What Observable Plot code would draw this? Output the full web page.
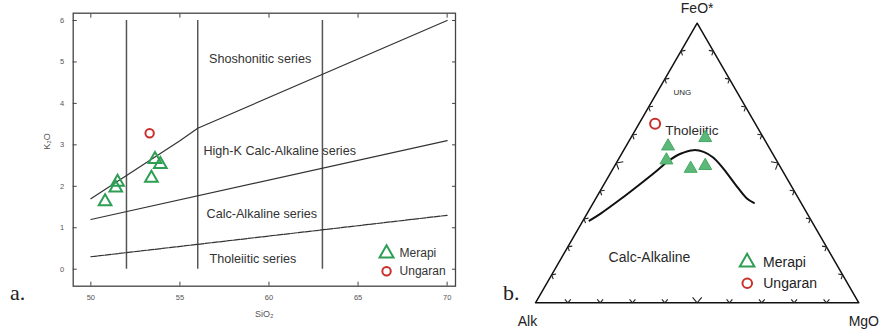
<!DOCTYPE html>
<html><head><meta charset="utf-8">
<script src="https://cdn.jsdelivr.net/npm/d3@7"></script>
<script src="https://cdn.jsdelivr.net/npm/@observablehq/plot@0.6"></script>
<style>
body{margin:0;background:#fff;}
#wrap{position:relative;width:880px;height:330px;overflow:hidden;background:#fff;font-family:"Liberation Sans",Arial,Helvetica,sans-serif;}
#a{position:absolute;left:0;top:0;}
#b{position:absolute;left:480px;top:0;}
.tag{position:absolute;font-family:"Liberation Serif","Times New Roman",serif;font-size:22px;line-height:22px;color:#222;}
</style></head><body>
<div id="wrap"><div id="a"></div><div id="b"></div>
<div class="tag" style="left:10px;top:282px">a.</div>
<div class="tag" style="left:503px;top:282px">b.</div></div>
<script>
// ---------- Panel a: K2O vs SiO2 ----------
const siTicks = [50, 55, 60, 65, 70];
const kTicks = [0, 1, 2, 3, 4, 5, 6];
const merapiSiO2 = [50.8, 51.4, 51.5, 53.6, 53.9, 53.4];
const merapiK2O = [1.63, 1.96, 2.1, 2.65, 2.53, 2.2];
const ungaranSiO2 = [53.3];
const ungaranK2O = [3.28];
const shoshoniticSiO2 = [50, 55, 56, 70];
const shoshoniticK2O = [1.7, 3.1, 3.4, 6.0];
const highKSiO2 = [50, 70];
const highKK2O = [1.2, 3.1];
const tholeiiticSiO2 = [50, 70];
const tholeiiticK2O = [0.3, 1.3];
const dividerSiO2 = [52, 56, 63];
const seriesNames = ["Shoshonitic series", "High-K Calc-Alkaline series", "Calc-Alkaline series", "Tholeiitic series"];
const seriesLabelSiO2 = [59.5, 60.6, 59.6, 59.1];
const seriesLabelK2O = [5.07, 2.85, 1.34, 0.25];
const legendNames = ["Merapi", "Ungaran"];
const legendSiO2A = [66.6, 66.6];
const legendK2OA = [0.38, -0.05];

// ---------- Panel b: AFM ternary (A, F, M in %) ----------
const merapiA = [31, 34, 18, 28, 23];
const merapiF = [56, 51, 59, 48, 49];
const merapiM = [13, 15, 23, 24, 28];
const ungaranA = [31];
const ungaranF = [64];
const ungaranM = [5];
const curveA = [68.6, 63.9, 55.1, 46.2, 39.4, 33.9, 28.5, 23.8, 21.0, 19.0, 17.9, 17.0, 16.0, 14.6];
const curveF = [29.4, 31.9, 37.1, 42.6, 46.9, 50.5, 53.3, 54.6, 54.0, 51.9, 48.0, 42.3, 37.4, 35.7];
const curveM = [2.0, 4.2, 7.8, 11.2, 13.7, 15.6, 18.2, 21.6, 25.0, 29.1, 34.1, 40.7, 46.6, 49.7];
const outlineA = [100, 0, 0, 100];
const outlineF = [0, 100, 0, 0];
const outlineM = [0, 0, 100, 0];
const tickSteps = [10, 20, 30, 40, 50, 60, 70, 80, 90];
const vertexNames = ["Alk", "FeO*", "MgO"];
const fieldNames = ["Tholeiitic", "Calc-Alkaline", "UNG"];
const fieldA = [29.1, 56.6, 17];
const fieldF = [61.5, 16.3, 75.2];
const fieldM = [9.4, 27.1, 7.8];
const legendA_b = [27.3, 31];
const legendF_b = [14.5, 7];
const legendM_b = [58.2, 62];

const font = '"Liberation Sans", Arial, Helvetica, sans-serif';
const green = "#2e9e55";
const red = "#c9302c";

const idx = (arr) => d3.range(arr.length);

const plotA = Plot.plot({
  width: 470, height: 330,
  marginLeft: 72.7, marginRight: 15, marginTop: 12.7, marginBottom: 44.3,
  style: {fontFamily: font, background: "#fff", overflow: "visible"},
  x: {domain: [49.01, 70.47]},
  y: {domain: [-0.41, 6.176]},
  marks: [
    Plot.frame({stroke: "#444", strokeWidth: 1.3}),
    Plot.axisX(siTicks, {anchor: "bottom", tickSize: -4, fill: "none", stroke: "#444", label: null}),
    Plot.axisX(siTicks, {anchor: "top", tickSize: -4, fill: "none", stroke: "#444", label: null}),
    Plot.axisY(kTicks, {anchor: "left", tickSize: -4, fill: "none", stroke: "#444", label: null}),
    Plot.axisY(kTicks, {anchor: "right", tickSize: -4, fill: "none", stroke: "#444", label: null}),
    Plot.axisX(siTicks, {anchor: "bottom", tickSize: 0, tickPadding: 8, stroke: "none", fill: "#555", fontSize: 7.5, label: null}),
    Plot.axisY(kTicks, {anchor: "left", tickSize: 0, tickPadding: 9, stroke: "none", fill: "#555", fontSize: 7.5, label: null}),
    Plot.text(["SiO₂"], {frameAnchor: "bottom", dy: 31, fontSize: 9, fill: "#555"}),
    Plot.text(["K₂O"], {frameAnchor: "left", dx: -26, rotate: -90, fontSize: 9, fill: "#555"}),
    Plot.ruleX(dividerSiO2, {y1: 0, y2: 6, stroke: "#555", strokeWidth: 1.5}),
    Plot.line(idx(shoshoniticSiO2), {x: i => shoshoniticSiO2[i], y: i => shoshoniticK2O[i], stroke: "#333", strokeWidth: 1.2}),
    Plot.line(idx(highKSiO2), {x: i => highKSiO2[i], y: i => highKK2O[i], stroke: "#333", strokeWidth: 1.2}),
    Plot.line(idx(tholeiiticSiO2), {x: i => tholeiiticSiO2[i], y: i => tholeiiticK2O[i], stroke: "#333", strokeWidth: 1.2, strokeDasharray: "6,1.2"}),
    Plot.text(idx(seriesNames), {x: i => seriesLabelSiO2[i], y: i => seriesLabelK2O[i], text: i => seriesNames[i], fontSize: 12.6, fill: "#333"}),
    Plot.dot(idx(merapiSiO2), {x: i => merapiSiO2[i], y: i => merapiK2O[i], symbol: "triangle", r: 4.7, stroke: green, strokeWidth: 2, fill: "none"}),
    Plot.dot(idx(ungaranSiO2), {x: i => ungaranSiO2[i], y: i => ungaranK2O[i], symbol: "circle", r: 4.2, stroke: red, strokeWidth: 2, fill: "none"}),
    Plot.dot([0], {x: () => legendSiO2A[0], y: () => legendK2OA[0], symbol: "triangle", r: 5.2, stroke: green, strokeWidth: 2, fill: "none"}),
    Plot.dot([1], {x: () => legendSiO2A[1], y: () => legendK2OA[1], symbol: "circle", r: 4.2, stroke: red, strokeWidth: 2, fill: "none"}),
    Plot.text(idx(legendNames), {x: i => legendSiO2A[i], y: i => legendK2OA[i], text: i => legendNames[i], dx: 13, textAnchor: "start", fontSize: 12, fill: "#333"})
  ]
});
document.getElementById("a").append(plotA);

// ---------- ternary helpers ----------
const S = Math.sqrt(3) / 2;
const tx = (a, f, m) => { const t = a + f + m; return m / t + f / t / 2; };
const ty = (a, f, m) => { const t = a + f + m; return f / t * S; };

const edges = [
  {p: k => [100 - k, 0, k], n: [0, 1]},
  {p: k => [100 - k, k, 0], n: [S, -0.5]},
  {p: k => [0, k, 100 - k], n: [-S, -0.5]}
];
const arms = [];
for (const e of edges) {
  for (const k of tickSteps) {
    const [a, f, m] = e.p(k);
    const x0 = tx(a, f, m), y0 = ty(a, f, m);
    const len = k === 50 ? 0.022 : 0.014;
    for (const s of [-1, 1]) {
      const th = s * 40 * Math.PI / 180;
      const dx = e.n[0] * Math.cos(th) - e.n[1] * Math.sin(th);
      const dy = e.n[0] * Math.sin(th) + e.n[1] * Math.cos(th);
      arms.push({x1: x0, y1: y0, x2: x0 + len * dx, y2: y0 + len * dy});
    }
  }
}

const fieldText = (i, anchor, size) => Plot.text([i], {
  x: () => tx(fieldA[i], fieldF[i], fieldM[i]),
  y: () => ty(fieldA[i], fieldF[i], fieldM[i]),
  text: () => fieldNames[i], textAnchor: anchor, fontSize: size, fill: "#2a2a2a"
});

const plotB = Plot.plot({
  width: 400, height: 330,
  marginLeft: 55, marginRight: 21.7, marginTop: 22.7, marginBottom: 27.7,
  style: {fontFamily: font, background: "#fff", overflow: "visible"},
  x: {domain: [0, 1], axis: null},
  y: {domain: [0, S], axis: null},
  marks: [
    Plot.line(idx(outlineA), {x: i => tx(outlineA[i], outlineF[i], outlineM[i]), y: i => ty(outlineA[i], outlineF[i], outlineM[i]), stroke: "#111", strokeWidth: 1.5}),
    Plot.link(arms, {x1: "x1", y1: "y1", x2: "x2", y2: "y2", stroke: "#222", strokeWidth: 1.1}),
    Plot.line(idx(curveA), {x: i => tx(curveA[i], curveF[i], curveM[i]), y: i => ty(curveA[i], curveF[i], curveM[i]), curve: "catmull-rom", stroke: "#111", strokeWidth: 2}),
    fieldText(0, "start", 13.5),
    fieldText(1, "middle", 14),
    fieldText(2, "middle", 8),
    Plot.text([0], {x: () => 0, y: () => 0, text: () => vertexNames[0], dx: -8, dy: 19, fontSize: 14, fill: "#222"}),
    Plot.text([1], {x: () => 0.5, y: () => S, text: () => vertexNames[1], dy: -14.5, fontSize: 14, fill: "#222"}),
    Plot.text([2], {x: () => 1, y: () => 0, text: () => vertexNames[2], dx: 5, dy: 19, fontSize: 14, fill: "#222"}),
    Plot.dot(idx(merapiA), {x: i => tx(merapiA[i], merapiF[i], merapiM[i]), y: i => ty(merapiA[i], merapiF[i], merapiM[i]), symbol: "triangle", r: 4.8, fill: "#5bb878", stroke: "#45a864", strokeWidth: 1}),
    Plot.dot(idx(ungaranA), {x: i => tx(ungaranA[i], ungaranF[i], ungaranM[i]), y: i => ty(ungaranA[i], ungaranF[i], ungaranM[i]), symbol: "circle", r: 5, stroke: red, strokeWidth: 2, fill: "none"}),
    Plot.dot([0], {x: () => tx(legendA_b[0], legendF_b[0], legendM_b[0]), y: () => ty(legendA_b[0], legendF_b[0], legendM_b[0]), symbol: "triangle", r: 5.4, stroke: green, strokeWidth: 2, fill: "none"}),
    Plot.dot([1], {x: () => tx(legendA_b[1], legendF_b[1], legendM_b[1]), y: () => ty(legendA_b[1], legendF_b[1], legendM_b[1]), symbol: "circle", r: 4.8, stroke: red, strokeWidth: 2, fill: "none"}),
    Plot.text(idx(legendNames), {x: i => tx(legendA_b[i], legendF_b[i], legendM_b[i]), y: i => ty(legendA_b[i], legendF_b[i], legendM_b[i]), text: i => legendNames[i], dx: 16, textAnchor: "start", fontSize: 14, fill: "#222"})
  ]
});
document.getElementById("b").append(plotB);
</script>
</body></html>
